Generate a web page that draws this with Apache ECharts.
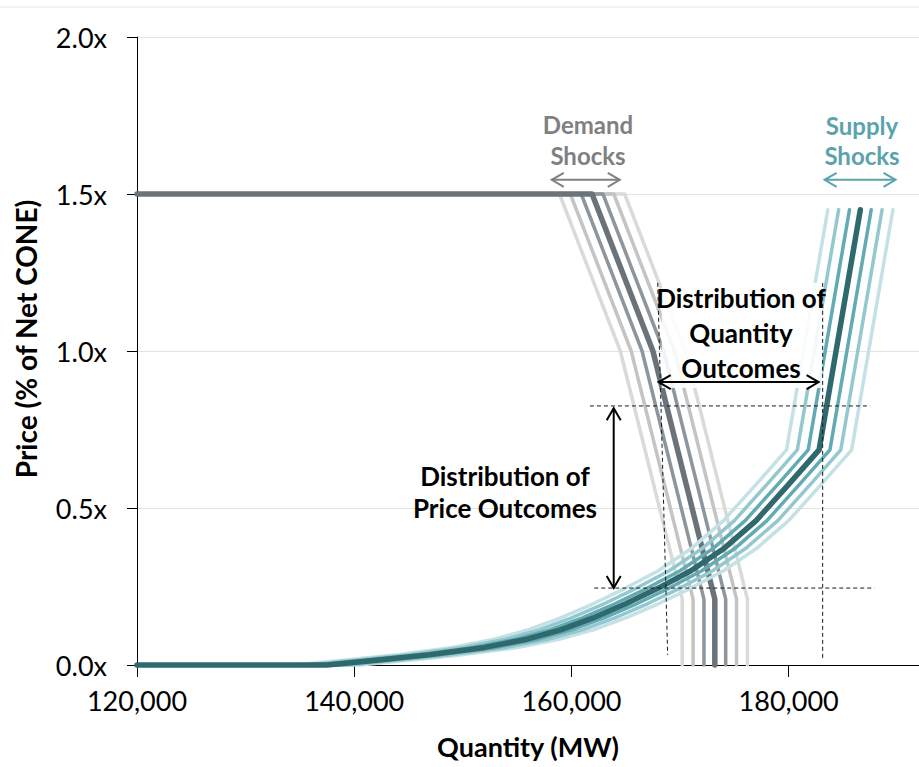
<!DOCTYPE html>
<html><head><meta charset="utf-8">
<script src="https://cdn.jsdelivr.net/npm/echarts@6/dist/echarts.min.js"></script>
<style>html,body{margin:0;padding:0;background:#fff}#c{width:919px;height:767px}</style>
</head><body><div id="c"></div>
<script>
// ---------- DATA ----------
const xTicks = [120000, 140000, 160000, 180000];
const yTicks = [0, 0.5, 1.0, 1.5, 2.0];

// Supply curves: shared price levels, one quantity list per curve (MW)
const supplyPrice = [0, 0, 0.015, 0.033, 0.056, 0.083, 0.112, 0.15, 0.195, 0.245, 0.30, 0.37, 0.46, 0.575, 0.685, 1.45];
const supplyM3 = [120000, 134500, 139000, 144000, 149000, 153000, 156000, 159000, 162000, 165000, 168000, 171000, 174000, 177000, 179800, 183600];
const supplyM2 = [120000, 135500, 140000, 145000, 150000, 154000, 157000, 160000, 163000, 166000, 169000, 172000, 175000, 178000, 180800, 184600];
const supplyM1 = [120000, 136500, 141000, 146000, 151000, 155000, 158000, 161000, 164000, 167000, 170000, 173000, 176000, 179000, 181800, 185600];
const supplyBase = [120000, 137500, 142000, 147000, 152000, 156000, 159000, 162000, 165000, 168000, 171000, 174000, 177000, 180000, 182800, 186600];
const supplyP1 = [120000, 138500, 143000, 148000, 153000, 157000, 160000, 163000, 166000, 169000, 172000, 175000, 178000, 181000, 183800, 187600];
const supplyP2 = [120000, 139500, 144000, 149000, 154000, 158000, 161000, 164000, 167000, 170000, 173000, 176000, 179000, 182000, 184800, 188600];
const supplyP3 = [120000, 140500, 145000, 150000, 155000, 159000, 162000, 165000, 168000, 171000, 174000, 177000, 180000, 183000, 185800, 189600];

// Demand curves
const demandPrice = [1.5, 1.5, 1.0, 0.21, 0];
const demandM3 = [120000, 158900, 164500, 170200, 170200];
const demandM2 = [120000, 159900, 165500, 171200, 171200];
const demandM1 = [120000, 160900, 166500, 172200, 172200];
const demandBase = [120000, 161900, 167500, 173200, 173200];
const demandP1 = [120000, 162900, 168500, 174200, 174200];
const demandP2 = [120000, 163900, 169500, 175200, 175200];
const demandP3 = [120000, 164900, 170500, 176200, 176200];

// Annotation anchors in data coordinates [MW, price]
const qtyArrow = [[168030, 0.901], [182760, 0.901]];
const priceArrow = [[163890, 0.818], [163890, 0.245]];
const demandShockArrow = [[158190, 1.545], [164450, 1.545]];
const supplyShockArrow = [[183310, 1.545], [189840, 1.545]];
const dashLines = [
  [[161700, 0.825], [187500, 0.825]],
  [[162100, 0.245], [187900, 0.245]],
  [[167940, 1.217], [168860, 0.032]],
  [[183130, 1.217], [183130, 0.016]]
];
const maskBox = [[168310, 1.217], [183130, 0.882]];

// ---------- CHART ----------
const FONT = 'Lato';
const chart = echarts.init(document.getElementById('c'), null, {renderer: 'svg'});

function line(qs, ps, color, width, z) {
  return {
    type: 'line', data: qs.map((q, i) => [q, ps[i]]), symbol: 'none',
    lineStyle: {color: color, width: width, cap: 'round', join: 'round'},
    z: z, silent: true, animation: false, clip: false
  };
}

const dOuter = '#dadada', dSecond = '#c4c4c4', dThird = '#8d969c', dDark = '#6a737a';
const sOuter = '#c4e1e5', sSecond = '#93c8cf', sThird = '#62abb4', sDark = '#2f696e';

const series = [
  line(demandM3, demandPrice, dOuter, 3.5, 2),
  line(demandP3, demandPrice, dOuter, 3.5, 2),
  line(demandM2, demandPrice, dSecond, 3.5, 2),
  line(demandP2, demandPrice, dSecond, 3.5, 2),
  line(demandM1, demandPrice, dThird, 3.5, 2),
  line(demandP1, demandPrice, dThird, 3.5, 2),
  line(demandBase, demandPrice, dDark, 5.5, 3),
  line(supplyM3, supplyPrice, sOuter, 3.5, 4),
  line(supplyP3, supplyPrice, sOuter, 3.5, 4),
  line(supplyM2, supplyPrice, sSecond, 3.5, 4),
  line(supplyP2, supplyPrice, sSecond, 3.5, 4),
  line(supplyM1, supplyPrice, sThird, 3.5, 4),
  line(supplyP1, supplyPrice, sThird, 3.5, 4),
  line(supplyBase, supplyPrice, sDark, 5.5, 5)
];

chart.setOption({
  backgroundColor: '#fff',
  animation: false,
  grid: {left: 137, right: 0, top: 37, bottom: 102, containLabel: false},
  xAxis: {
    type: 'value', min: 120000, max: 192000, interval: 20000,
    name: 'Quantity (MW)', nameLocation: 'middle', nameGap: 68,
    nameTextStyle: {fontFamily: FONT, fontWeight: 'bold', fontSize: 27, color: '#000'},
    axisLine: {show: true, lineStyle: {color: '#000', width: 1}},
    axisTick: {show: true, length: 12, lineStyle: {color: '#000'}},
    axisLabel: {margin: 22, fontFamily: FONT, fontSize: 27, color: '#000', showMaxLabel: false,
      formatter: v => xTicks.indexOf(v) >= 0 ? v.toLocaleString('en-US') : ''},
    splitLine: {show: false}
  },
  yAxis: {
    type: 'value', min: 0, max: 2, interval: 0.5,
    name: 'Price (% of Net CONE)', nameLocation: 'middle', nameGap: 97, nameRotate: 90,
    nameTextStyle: {fontFamily: FONT, fontWeight: 'bold', fontSize: 28, color: '#000', padding: [0, 0, 0, 24]},
    axisLine: {show: true, lineStyle: {color: '#000', width: 1}},
    axisTick: {show: true, length: 10, lineStyle: {color: '#000'}},
    axisLabel: {margin: 30, fontFamily: FONT, fontSize: 27, color: '#000',
      formatter: v => yTicks.indexOf(v) >= 0 ? v.toFixed(1) + 'x' : ''},
    splitLine: {show: true, lineStyle: {color: '#e3e3e3', width: 1}}
  },
  series: series
});

// ---------- ANNOTATIONS ----------
const px = p => chart.convertToPixel({gridIndex: 0}, p);

function head(tip, from, color, w) {
  const dx = tip[0] - from[0], dy = tip[1] - from[1];
  const L = Math.sqrt(dx * dx + dy * dy), ux = dx / L, uy = dy / L;
  const len = 12, half = 7;
  const bx = tip[0] - ux * len, by = tip[1] - uy * len;
  return {type: 'polyline', z: 20, silent: true,
    shape: {points: [[bx - uy * half, by + ux * half], tip, [bx + uy * half, by - ux * half]]},
    style: {stroke: color, lineWidth: w, fill: null}};
}
function dblArrow(pair, color, w) {
  const a = px(pair[0]), b = px(pair[1]);
  return [
    {type: 'line', z: 20, silent: true, shape: {x1: a[0], y1: a[1], x2: b[0], y2: b[1]}, style: {stroke: color, lineWidth: w}},
    head(a, b, color, w), head(b, a, color, w)
  ];
}
function txt(str, x, y, color, size) {
  return {type: 'text', z: 30, silent: true, x: x, y: y,
    style: {text: str, fill: color, font: 'bold ' + size + 'px ' + FONT, align: 'center', verticalAlign: 'middle'}};
}

const g = [];
g.push({type: 'line', z: 1, silent: true, shape: {x1: 0, y1: 7, x2: 919, y2: 7}, style: {stroke: '#e6e6e6', lineWidth: 1}});
const b0 = px(maskBox[0]), b1 = px(maskBox[1]);
g.push({type: 'rect', z: 10, silent: true, shape: {x: b0[0], y: b0[1], width: b1[0] - b0[0], height: b1[1] - b0[1]},
  style: {fill: 'rgba(255,255,255,0.88)'}});
dashLines.forEach(d => {
  const a = px(d[0]), b = px(d[1]);
  g.push({type: 'line', z: 15, silent: true, shape: {x1: a[0], y1: a[1], x2: b[0], y2: b[1]},
    style: {stroke: '#1a1a1a', lineWidth: 1, lineDash: [4, 3]}});
});
g.push(...dblArrow(qtyArrow, '#000', 2));
g.push(...dblArrow(priceArrow, '#000', 2));
g.push(...dblArrow(demandShockArrow, '#808080', 2));
g.push(...dblArrow(supplyShockArrow, '#5aa3ad', 2));

g.push(txt('Demand', 588, 124, '#808080', 24));
g.push(txt('Shocks', 588, 155, '#808080', 24));
g.push(txt('Supply', 862, 125, '#5aa3ad', 24));
g.push(txt('Shocks', 862, 155, '#5aa3ad', 24));
g.push(txt('Distribution of', 741, 298, '#000', 26));
g.push(txt('Quantity', 741, 333, '#000', 26));
g.push(txt('Outcomes', 741, 368, '#000', 26));
g.push(txt('Distribution of', 505, 476, '#000', 26));
g.push(txt('Price Outcomes', 505, 508, '#000', 26));

chart.setOption({graphic: {elements: g}});
</script>
</body></html>
